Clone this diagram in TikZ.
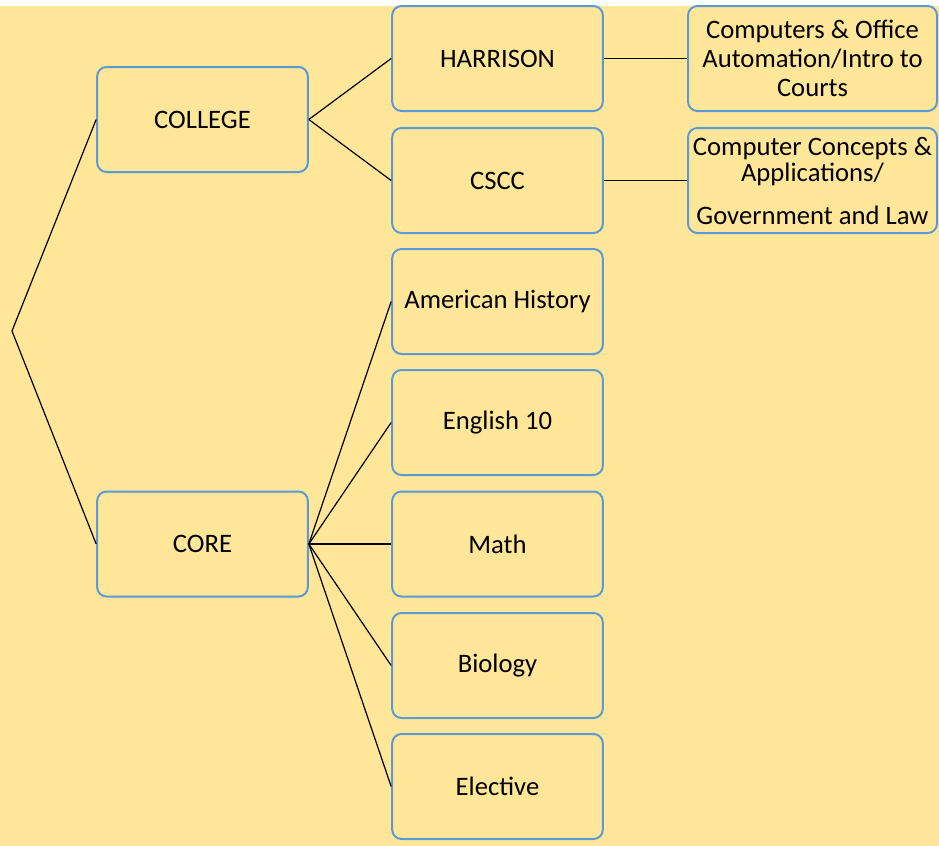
\documentclass[tikz,border=0pt]{standalone}
\usepackage{fontspec}
\setmainfont{Carlito}
\definecolor{bgyellow}{HTML}{FFE699}
\definecolor{boxblue}{HTML}{5B9BD5}
\tikzset{
  box/.style={draw=boxblue, line width=1.5pt, rounded corners=7pt, fill=bgyellow,
    minimum width=158pt, minimum height=78.75pt, inner sep=0pt, align=center,
    font=\fontsize{20}{21.75}\selectfont},
  widebox/.style={box, minimum width=186.75pt},
  link/.style={line width=0.9pt, black}
}
\begin{document}
\begin{tikzpicture}[x=0.75pt,y=-0.75pt]
      \useasboundingbox (0,0) rectangle (939,846);
      \fill[bgyellow] (0,6) rectangle (939,846);

      \coordinate (root) at (12,331);

      \node[box] (college)  at (202.5,119.5) {COLLEGE};
      \node[box] (core)     at (202.5,544)   {CORE};

      \node[box] (harrison) at (497.5,58.5)  {HARRISON};
      \node[box] (cscc)     at (497.5,180.5) {CSCC};
      \node[box] (history)  at (497.5,301.5) {American History};
      \node[box] (english)  at (497.5,422.5) {English 10};
      \node[box] (math)     at (497.5,544)   {Math};
      \node[box] (biology)  at (497.5,665.5) {Biology};
      \node[box] (elective) at (497.5,786.5) {Elective};

      \node[widebox] (office)  at (812.5,58.5)
        {Computers \& Office\\Automation/Intro to\\Courts};
      \node[widebox, font=\fontsize{20}{19.5}\selectfont] (concepts) at (812.5,180.5)
        {Computer Concepts \&\\Applications/\\[12.75pt]Government and Law};

      \draw[link] (root) -- (college.west);
      \draw[link] (root) -- (core.west);

      \draw[link] (college.east) -- (harrison.west);
      \draw[link] (college.east) -- (cscc.west);
      \draw[link] (harrison.east) -- (office.west);
      \draw[link] (cscc.east) -- (concepts.west);

      \foreach \n in {history,english,math,biology,elective}
        \draw[link] (core.east) -- (\n.west);
\end{tikzpicture}
\end{document}
